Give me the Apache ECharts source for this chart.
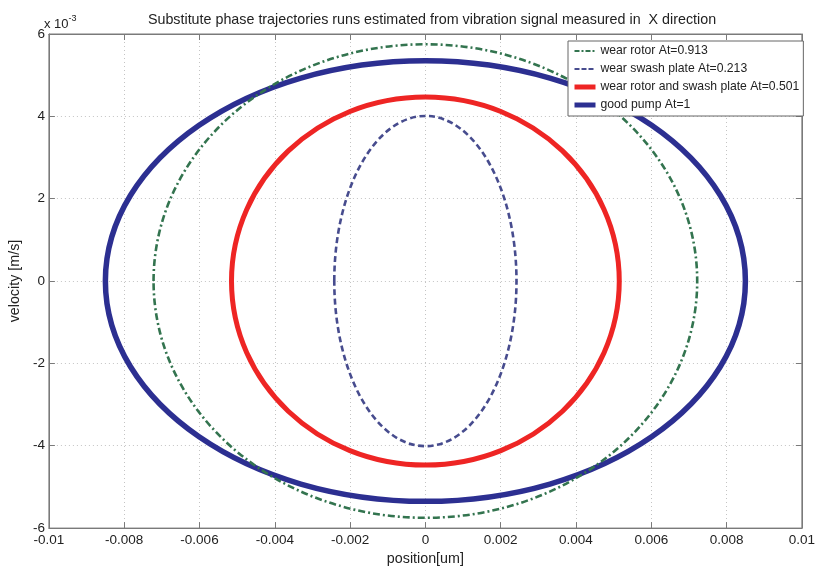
<!DOCTYPE html>
<html>
<head>
<meta charset="utf-8">
<script src="https://cdn.jsdelivr.net/npm/echarts@6/dist/echarts.min.js"></script>
<style>
html,body{margin:0;padding:0;background:#fff;}
#chart{width:818px;height:571px;}
</style>
</head>
<body>
<div id="chart"></div>
<script>
// ---- data ----
var seriesNames = [
  'wear rotor At=0.913',
  'wear swash plate At=0.213',
  'wear rotor and swash plate At=0.501',
  'good pump At=1'
];
// ellipse centre x [um], centre y [x10^-3 m/s]
var centerX = [0, 0, 0, 0];
var centerY = [0, 0, 0, 0];
// half width along position axis [um]
var radiusX = [0.00722, 0.00242, 0.00515, 0.0085];
// half height along velocity axis [x10^-3 m/s]
var radiusY = [5.75, 4.01, 4.47, 5.35];
var xTickLabels = ['-0.01','-0.008','-0.006','-0.004','-0.002','0','0.002','0.004','0.006','0.008','0.01'];
var yTickLabels = ['-6','-4','-2','0','2','4','6'];

// ---- styles ----
var colors = ['#33744f', '#474c8e', '#ee2524', '#2c2f91'];
var widths = [2.6, 2.6, 5, 5.5];
var legendWidths = [2.2, 2.2, 5, 5];
var dashes = [[7,3,2,3], [6,3.5], null, null];
var dashTypes = [[5,2,2,2], [5,2], 'solid', 'solid'];

var FONT = 'Liberation Sans, Arial, sans-serif';

var chart = echarts.init(document.getElementById('chart'), null, {renderer: 'canvas'});

var series = [];
// legend entries (line icons)
for (var i = 0; i < seriesNames.length; i++) {
  series.push({
    type: 'line',
    name: seriesNames[i],
    data: [],
    symbol: 'none',
    showSymbol: false,
    color: colors[i],
    lineStyle: {color: colors[i], width: legendWidths[i], type: dashTypes[i]}
  });
}
// ellipses
for (var j = 0; j < seriesNames.length; j++) {
  (function (k) {
    series.push({
      type: 'custom',
      name: seriesNames[k],
      color: colors[k],
      coordinateSystem: 'cartesian2d',
      encode: {x: 0, y: 1},
      data: [[centerX[k], centerY[k], radiusX[k], radiusY[k]]],
      renderItem: function (params, api) {
        var c = api.coord([api.value(0), api.value(1)]);
        var s = api.size([api.value(2), api.value(3)]);
        var st = {fill: 'none', stroke: colors[k], lineWidth: widths[k]};
        if (dashes[k]) st.lineDash = dashes[k];
        return {
          type: 'ellipse',
          shape: {cx: c[0], cy: c[1], rx: s[0], ry: s[1]},
          style: st
        };
      },
      z: 10 - k
    });
  })(j);
}

var legendData = seriesNames.map(function (n, idx) {
  return {name: n, lineStyle: {width: legendWidths[idx]}};
});

var gridLine = {show: true, lineStyle: {color: '#c4c4c4', type: [1, 3], width: 1}};
var axisLineStyle = {show: true, onZero: false, lineStyle: {color: '#7a7a7a', width: 1}};
var tickStyle = {show: true, inside: true, length: 6, lineStyle: {color: '#7a7a7a'}};

var option = {
  animation: false,
  backgroundColor: '#ffffff',
  title: {
    text: 'Substitute phase trajectories runs estimated from vibration signal measured in  X direction',
    left: 427, top: 8, textAlign: 'center',
    textStyle: {fontFamily: FONT, fontSize: 14.3, fontWeight: 'normal', color: '#222'}
  },
  grid: {left: 46, right: 13, top: 34, bottom: 40, show: true, borderColor: '#7a7a7a', borderWidth: 1},
  legend: {
    orient: 'vertical',
    left: 568, top: 41,
    z: 100,
    itemWidth: 21, itemHeight: 14, itemGap: 6,
    padding: [4, 4, 5, 4],
    backgroundColor: '#ffffff',
    borderColor: '#666',
    borderWidth: 1,
    borderRadius: 0,
    itemStyle: {opacity: 0},
    data: legendData,
    textStyle: {fontFamily: FONT, fontSize: 12.2, color: '#222'}
  },
  xAxis: [{
    type: 'value', min: -0.01, max: 0.01, interval: 0.002,
    position: 'bottom',
    name: 'position[um]', nameLocation: 'middle', nameGap: 22,
    nameTextStyle: {fontFamily: FONT, fontSize: 14.3, color: '#222'},
    axisLine: axisLineStyle,
    axisTick: tickStyle,
    splitLine: gridLine,
    axisLabel: {
      fontFamily: FONT, fontSize: 13.5, color: '#222', margin: 5,
      formatter: function (v, idx) { return xTickLabels[idx]; }
    }
  }, {
    type: 'value', min: -0.01, max: 0.01, interval: 0.002,
    position: 'top',
    axisLine: axisLineStyle,
    axisTick: tickStyle,
    splitLine: {show: false},
    axisLabel: {show: false}
  }],
  yAxis: [{
    type: 'value', min: -6, max: 6, interval: 2,
    position: 'left',
    name: 'velocity [m/s]', nameLocation: 'middle', nameGap: 24, nameRotate: 90,
    nameTextStyle: {fontFamily: FONT, fontSize: 14.3, color: '#222'},
    axisLine: axisLineStyle,
    axisTick: tickStyle,
    splitLine: gridLine,
    axisLabel: {
      fontFamily: FONT, fontSize: 13.5, color: '#222', margin: 4,
      formatter: function (v, idx) { return yTickLabels[idx]; }
    }
  }, {
    type: 'value', min: -6, max: 6, interval: 2,
    position: 'right',
    axisLine: axisLineStyle,
    axisTick: tickStyle,
    splitLine: {show: false},
    axisLabel: {show: false}
  }],
  graphic: [{
    type: 'text',
    left: 44, top: 14,
    style: {
      text: '{b|x 10}{s|-3}',
      rich: {
        b: {fontFamily: FONT, fontSize: 13, fill: '#222', verticalAlign: 'bottom'},
        s: {fontFamily: FONT, fontSize: 9, fill: '#222', verticalAlign: 'top', padding: [0, 0, 8, 0]}
      }
    }
  }],
  series: series
};
chart.setOption(option);
</script>
</body>
</html>
